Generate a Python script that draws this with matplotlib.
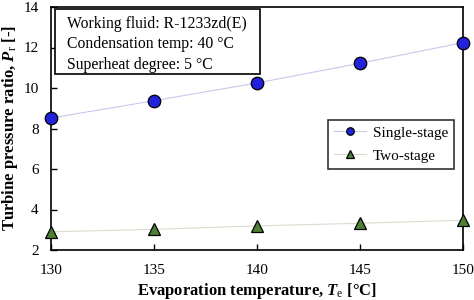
import matplotlib
matplotlib.use("Agg")
import matplotlib.pyplot as plt
from matplotlib.patches import Rectangle

plt.rcParams["font.family"] = ["Liberation Serif", "DejaVu Serif"]
plt.rcParams["mathtext.fontset"] = "custom"
plt.rcParams["mathtext.rm"] = "Liberation Serif"
plt.rcParams["mathtext.it"] = "Liberation Serif:italic:bold"
plt.rcParams["mathtext.bf"] = "Liberation Serif:bold"

evap_temp = [130, 135, 140, 145, 150]
single_stage = [8.52, 9.37, 10.25, 11.22, 12.24]
two_stage = [2.90, 3.02, 3.19, 3.32, 3.47]
x_ticks = [130, 135, 140, 145, 150]
y_ticks = [2, 4, 6, 8, 10, 12, 14]

fig = plt.figure(figsize=(4.74, 3.0), dpi=100)
ax = fig.add_axes([51 / 474, 1 - 250 / 300, 412 / 474, 243 / 300])

ax.plot(evap_temp, single_stage, color="#c8c8ee", linewidth=0.8, marker="o",
        markersize=9, markerfacecolor="#2222dd", markeredgecolor="black",
        markeredgewidth=0.9, label="Single-stage", clip_on=False, zorder=3)
ax.plot(evap_temp, two_stage, color="#d8dccc", linewidth=0.8, marker="^",
        markersize=9, markerfacecolor="#4f7f35", markeredgecolor="black",
        markeredgewidth=0.9, label="Two-stage", clip_on=False, zorder=3)

ax.set_xlim(130, 150)
ax.set_ylim(2, 14)
ax.set_xticks(x_ticks)
ax.set_yticks(y_ticks)
ax.tick_params(direction="in", labelsize=11, length=4, width=1)
ax.tick_params(axis="x", pad=10)
ax.tick_params(axis="y", pad=9)
for s in ax.spines.values():
    s.set_linewidth(1.2)

ax.set_xlabel(r"Evaporation temperature, $T_\mathrm{e}$ [°C]", fontsize=12,
              fontweight="bold", labelpad=3)
ax.set_ylabel(r"Turbine pressure ratio, $P_\mathrm{r}$ [-]", fontsize=12,
              fontweight="bold", labelpad=2)

# note box in the top-left corner
ax.add_patch(Rectangle((0.0097, 0.724), 0.497, 0.268, transform=ax.transAxes,
                       facecolor="white", edgecolor="black", linewidth=1.2,
                       zorder=4))
ax.text(0.039, 0.962,
        "Working fluid: R-1233zd(E)\nCondensation temp: 40 °C\nSuperheat degree: 5 °C",
        transform=ax.transAxes, ha="left", va="top", fontsize=11.3,
        linespacing=1.35, zorder=5)

leg = ax.legend(loc="upper right", bbox_to_anchor=(0.978, 0.535), fontsize=11,
                frameon=True, fancybox=False, edgecolor="black", borderaxespad=0,
                handlelength=2.1, handletextpad=0.4, labelspacing=0.6,
                borderpad=0.4, markerscale=0.6)
leg.get_frame().set_linewidth(1.2)

fig.savefig("out.png", dpi=100)
